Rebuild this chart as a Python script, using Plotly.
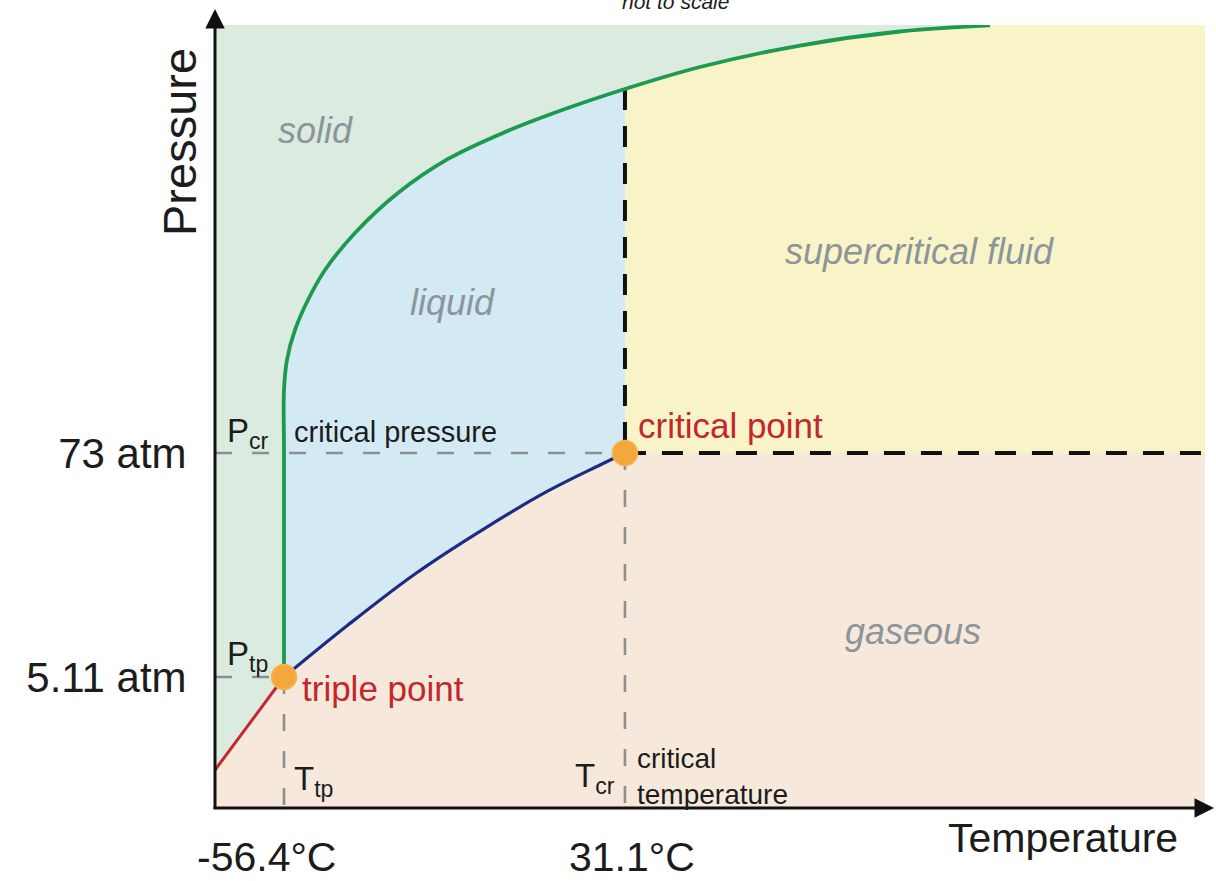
import plotly.graph_objects as go

# ---------------- data (diagram units, "not to scale": 0-100 on both axes) ----------------
T_TP, P_TP = 6.97, 16.73      # triple point
T_CR, P_CR = 41.41, 45.34     # critical point
temp_tick_labels = ["-56.4°C", "31.1°C"]
pressure_tick_labels = ["5.11 atm", "73 atm"]

# sublimation curve (solid / gas)
sub_T = [0.0, 6.97]
sub_P = [4.85, 16.73]
# vaporisation curve (liquid / gas)
vap_T = [6.97, 13.43, 20.20, 26.97, 33.64, 38.89, 41.41]
vap_P = [16.73, 23.37, 29.89, 35.50, 40.49, 43.81, 45.34]
# melting curve (solid / liquid)
melt_T = [6.97, 6.97, 6.97, 6.97, 7.27, 8.08, 9.39, 11.11, 14.14, 18.48, 23.54, 29.29,
          35.35, 41.41, 48.99, 59.09, 69.19, 78.28]
melt_P = [16.73, 31.67, 45.72, 53.38, 57.22, 61.05, 64.88, 68.71, 73.44, 78.54, 82.89, 86.33,
          89.27, 91.83, 94.64, 97.38, 99.17, 99.94]

region_labels = ["solid", "liquid", "supercritical fluid", "gaseous"]

# ---------------- layout geometry ----------------
W, H = 1216, 881
ML, MR, MT, MB = 215, 11, 25, 73
X0, Y0 = ML, H - MB
PW, PH = W - ML - MR, H - MT - MB
XS = PW / 100.0
YS = PH / 100.0

FONT = "Liberation Sans, Arial, Helvetica, sans-serif"
DARK = "#1c1c1c"
RED = "#c1272d"
GREY_TXT = "#8c959b"

C_SOLID = "#dcebe0"
C_LIQ = "#d3eaf4"
C_SUPER = "#f9f4c8"
C_GAS = "#f6e8db"


def to_px(p):
    return (X0 + p[0] * XS, Y0 - p[1] * YS)


def to_dt(p):
    return ((p[0] - X0) / XS, (Y0 - p[1]) / YS)


def xp(px):
    return (px - X0) / PW


def yp(py):
    return (Y0 - py) / PH


# replicate plotly's spline smoothing so the fills follow the drawn curves exactly
def tangent(p0, p1, p2, s):
    d1x, d1y = p0[0] - p1[0], p0[1] - p1[1]
    d2x, d2y = p2[0] - p1[0], p2[1] - p1[1]
    d1a = (d1x * d1x + d1y * d1y) ** 0.25
    d2a = (d2x * d2x + d2y * d2y) ** 0.25
    numx = (d2a * d2a * d1x - d1a * d1a * d2x) * s
    numy = (d2a * d2a * d1y - d1a * d1a * d2y) * s
    den1 = 3 * d2a * (d1a + d2a)
    den2 = 3 * d1a * (d1a + d2a)
    a = (p1[0] + (numx / den1 if den1 else 0), p1[1] + (numy / den1 if den1 else 0))
    b = (p1[0] - (numx / den2 if den2 else 0), p1[1] - (numy / den2 if den2 else 0))
    return a, b


def segments(T, P, s=1.0):
    pts = [to_px(p) for p in zip(T, P)]
    n = len(pts)
    tans = [tangent(pts[i - 1], pts[i], pts[i + 1], s) for i in range(1, n - 1)]
    segs = []
    for j in range(n - 1):
        if j == 0:
            ctrl = [tans[0][0]]
        elif j == n - 2:
            ctrl = [tans[n - 3][1]]
        else:
            ctrl = [tans[j - 1][1], tans[j][0]]
        segs.append((to_dt(pts[j]), [to_dt(c) for c in ctrl], to_dt(pts[j + 1])))
    return segs


def seg_str(seg, reverse=False):
    a, ctrl, b = seg
    if reverse:
        ctrl = ctrl[::-1]
        b = a
    cmd = "Q" if len(ctrl) == 1 else "C"
    return cmd + " ".join(f"{c[0]:.4f},{c[1]:.4f}" for c in ctrl + [b])


def P(pt):
    return f"{pt[0]:.4f},{pt[1]:.4f}"


g_segs = segments(melt_T, melt_P)
b_segs = segments(vap_T, vap_P)
k = melt_T.index(T_CR)  # melting-curve point above the critical point

liquid_path = "M" + P((melt_T[0], melt_P[0]))
liquid_path += "".join(seg_str(s) for s in g_segs[:k])
liquid_path += "L" + P((T_CR, P_CR))
liquid_path += "".join(seg_str(s, True) for s in reversed(b_segs))
liquid_path += "Z"

super_path = "M" + P((T_CR, P_CR)) + "L" + P((melt_T[k], melt_P[k]))
super_path += "".join(seg_str(s) for s in g_segs[k:])
super_path += "L" + P((melt_T[-1], 100)) + "L" + P((100, 100)) + "L" + P((100, P_CR)) + "Z"

gas_path = "M" + P((sub_T[0], sub_P[0])) + "L" + P((sub_T[1], sub_P[1]))
gas_path += "".join(seg_str(s) for s in b_segs)
gas_path += "L" + P((100, P_CR)) + "L" + P((100, 0)) + "L" + P((0, 0)) + "Z"

shapes = [
    dict(type="path", path=liquid_path, xref="x", yref="y", fillcolor=C_LIQ,
         line=dict(width=0), layer="below"),
    dict(type="path", path=super_path, xref="x", yref="y", fillcolor=C_SUPER,
         line=dict(width=0), layer="below"),
    dict(type="path", path=gas_path, xref="x", yref="y", fillcolor=C_GAS,
         line=dict(width=0), layer="below"),
]

fig = go.Figure()

GREY_DASH = dict(color="#8e8e8e", width=2.6, dash="17px,20px")
BLACK_DASH = dict(color="#111111", width=4, dash="21px,16px")


def line_tr(x, y, line, shape="linear"):
    fig.add_trace(go.Scatter(x=x, y=y, mode="lines", line=dict(**line, shape=shape),
                             hoverinfo="skip", showlegend=False))


# guide lines
line_tr([0, T_CR], [P_CR, P_CR], GREY_DASH)
line_tr([0, T_TP], [P_TP, P_TP], GREY_DASH)
line_tr([T_TP, T_TP], [P_TP, 0], GREY_DASH)
line_tr([T_CR, T_CR], [P_CR, 0], GREY_DASH)
line_tr([T_CR, T_CR], [melt_P[k], P_CR], BLACK_DASH)
line_tr([T_CR, 100], [P_CR, P_CR], BLACK_DASH)

# phase boundaries
line_tr(sub_T, sub_P, dict(color=RED, width=3))
fig.add_trace(go.Scatter(x=vap_T, y=vap_P, mode="lines",
                         line=dict(color="#1d2a86", width=3.2, shape="spline",
                                   smoothing=1, simplify=False),
                         hoverinfo="skip", showlegend=False))
fig.add_trace(go.Scatter(x=melt_T, y=melt_P, mode="lines",
                         line=dict(color="#1c9a50", width=3.8, shape="spline",
                                   smoothing=1, simplify=False),
                         hoverinfo="skip", showlegend=False))

# triple & critical points
fig.add_trace(go.Scatter(x=[T_TP, T_CR], y=[P_TP, P_CR], mode="markers",
                         marker=dict(size=25, color="#f4a73a",
                                     line=dict(color="#f8b44c", width=1.5)),
                         hoverinfo="skip", showlegend=False))

ann = []


def text(t, px, py, size, color=DARK, xanchor="center", yanchor="middle", **kw):
    ann.append(dict(text=t, x=xp(px), y=yp(py), xref="paper", yref="paper", showarrow=False,
                    xanchor=xanchor, yanchor=yanchor,
                    font=dict(family=FONT, size=size, color=color), **kw))


# axis arrows (filled heads)
ann.append(dict(x=0, y=yp(9), xref="paper", yref="paper", axref="pixel", ayref="pixel",
                ax=0, ay=801, text="", showarrow=True, arrowhead=2, arrowsize=1.3,
                arrowwidth=3, arrowcolor="#111111", standoff=0))
ann.append(dict(x=xp(1214), y=0, xref="paper", yref="paper", axref="pixel", ayref="pixel",
                ax=-1002, ay=0, text="", showarrow=True, arrowhead=2, arrowsize=1.3,
                arrowwidth=3, arrowcolor="#111111", standoff=0))

# axis titles
text("Pressure", 179, 142, 47, textangle=-90)
text("Temperature", 1063, 838, 41)
text("<i>not to scale</i>", 675, 15, 21, yanchor="bottom")

# temperature tick labels
for tv, lab, sh in zip([T_TP, T_CR], temp_tick_labels, [-18, 7]):
    ann.append(dict(text=lab, x=tv, y=yp(857), xref="x", yref="paper", showarrow=False,
                    xanchor="center", yanchor="middle", xshift=sh,
                    font=dict(family=FONT, size=41, color=DARK)))

# region labels
for lab, (px, py) in zip(region_labels, [(315, 130), (452, 302), (919, 252), (913, 631)]):
    text(f"<i>{lab}</i>", px, py, 36, GREY_TXT)

text("critical point", 636, 425, 35, RED, xanchor="left")
text("triple point", 300, 688, 35, RED, xanchor="left")

text("P<sub>cr</sub>", 225, 433, 33, xanchor="left")
text("critical pressure", 292, 432, 29, xanchor="left")
text("P<sub>tp</sub>", 225, 656, 33, xanchor="left")
text("T<sub>tp</sub>", 292, 781, 33, xanchor="left")
text("T<sub>cr</sub>", 617, 778, 33, xanchor="right")
text("critical<br>temperature", 635, 776, 28, xanchor="left", align="left")

fig.update_layout(
    width=W, height=H,
    margin=dict(l=ML, r=MR, t=MT, b=MB, pad=0),
    paper_bgcolor="white",
    plot_bgcolor=C_SOLID,
    shapes=shapes,
    annotations=ann,
    showlegend=False,
    xaxis=dict(range=[0, 100], showgrid=False, zeroline=False, showline=False,
               showticklabels=False, ticks="", fixedrange=True),
    yaxis=dict(range=[0, 100], showgrid=False, zeroline=False, showline=False,
               tickvals=[P_TP, P_CR], ticktext=pressure_tick_labels,
               ticks="outside", ticklen=19, tickcolor="rgba(0,0,0,0)",
               tickfont=dict(family=FONT, size=42, color=DARK), fixedrange=True),
)

fig.write_html("out.html")
